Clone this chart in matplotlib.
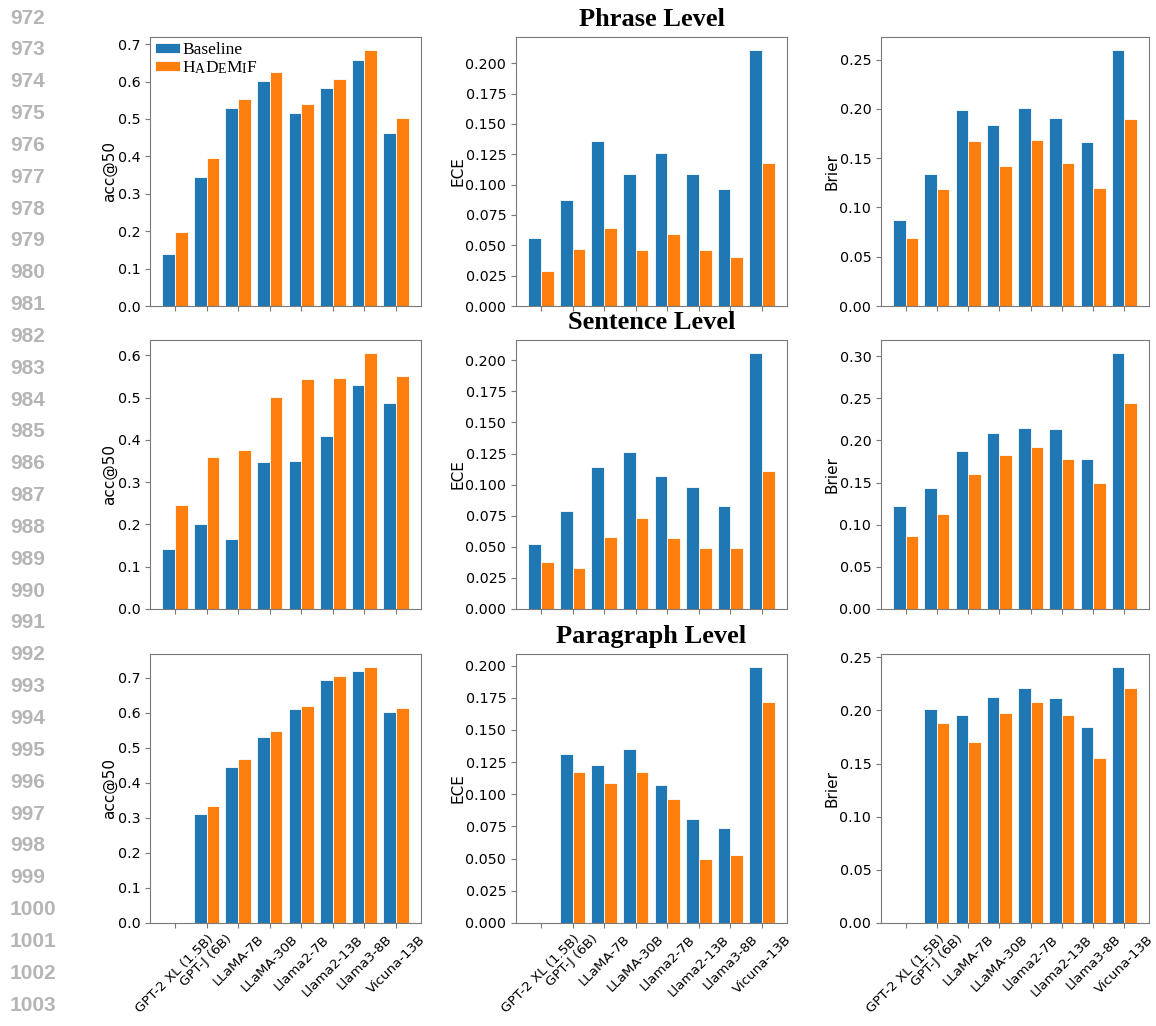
import matplotlib
matplotlib.use('Agg')
import matplotlib.pyplot as plt
import numpy as np

models = ["GPT-2 XL (1.5B)", "GPT-J (6B)", "LLaMA-7B", "LLaMA-30B",
          "Llama2-7B", "Llama2-13B", "Llama3-8B", "Vicuna-13B"]
levels = ["Phrase Level", "Sentence Level", "Paragraph Level"]
metrics = ["acc@50", "ECE", "Brier"]
series_names = ["Baseline", "HADEMIF"]

# Phrase level
phrase_acc_base = [0.140, 0.345, 0.529, 0.601, 0.517, 0.583, 0.658, 0.463]
phrase_acc_ours = [0.197, 0.395, 0.553, 0.627, 0.541, 0.607, 0.685, 0.502]
phrase_ece_base = [0.056, 0.087, 0.136, 0.109, 0.126, 0.109, 0.096, 0.211]
phrase_ece_ours = [0.029, 0.047, 0.064, 0.046, 0.059, 0.046, 0.040, 0.118]
phrase_brier_base = [0.087, 0.134, 0.199, 0.184, 0.201, 0.191, 0.166, 0.260]
phrase_brier_ours = [0.069, 0.119, 0.167, 0.142, 0.168, 0.145, 0.120, 0.190]

# Sentence level
sent_acc_base = [0.143, 0.201, 0.166, 0.348, 0.351, 0.409, 0.531, 0.487]
sent_acc_ours = [0.246, 0.360, 0.377, 0.502, 0.543, 0.547, 0.606, 0.551]
sent_ece_base = [0.052, 0.079, 0.114, 0.126, 0.107, 0.098, 0.083, 0.206]
sent_ece_ours = [0.038, 0.033, 0.058, 0.073, 0.057, 0.049, 0.049, 0.111]
sent_brier_base = [0.122, 0.143, 0.187, 0.209, 0.215, 0.213, 0.178, 0.304]
sent_brier_ours = [0.087, 0.113, 0.160, 0.183, 0.192, 0.178, 0.150, 0.245]

# Paragraph level (no GPT-2 XL result)
para_acc_base = [0.0, 0.311, 0.444, 0.532, 0.611, 0.692, 0.719, 0.601]
para_acc_ours = [0.0, 0.335, 0.467, 0.547, 0.620, 0.706, 0.731, 0.613]
para_ece_base = [0.0, 0.131, 0.123, 0.135, 0.107, 0.081, 0.074, 0.199]
para_ece_ours = [0.0, 0.117, 0.109, 0.117, 0.096, 0.050, 0.053, 0.172]
para_brier_base = [0.0, 0.201, 0.196, 0.213, 0.221, 0.212, 0.184, 0.241]
para_brier_ours = [0.0, 0.188, 0.170, 0.198, 0.208, 0.196, 0.155, 0.221]

data = [
    [(phrase_acc_base, phrase_acc_ours), (phrase_ece_base, phrase_ece_ours), (phrase_brier_base, phrase_brier_ours)],
    [(sent_acc_base, sent_acc_ours), (sent_ece_base, sent_ece_ours), (sent_brier_base, sent_brier_ours)],
    [(para_acc_base, para_acc_ours), (para_ece_base, para_ece_ours), (para_brier_base, para_brier_ours)],
]

W, H = 1156, 1026
fig = plt.figure(figsize=(W / 100, H / 100), dpi=100)

col_left = [150, 516, 881]
col_w = [271, 271, 268]
row_top = [37, 340, 654]
ah = 269

blue = '#1f77b4'
orange = '#ff7f0e'
spine_col = '#7a7a7a'

x = np.arange(len(models))
for r in range(3):
    for c in range(3):
        ax = fig.add_axes([col_left[c] / W, 1 - (row_top[r] + ah) / H, col_w[c] / W, ah / H])
        base, ours = data[r][c]
        ax.bar(x - 0.2, base, 0.4, color=blue, edgecolor='white', linewidth=0.6, label=series_names[0])
        ax.bar(x + 0.2, ours, 0.4, color=orange, edgecolor='white', linewidth=0.6, label=series_names[1])
        ax.set_xticks(x)
        if r == 2:
            ax.set_xticklabels(models, rotation=45, fontsize=9.6)
        else:
            ax.set_xticklabels([])
        ax.tick_params(axis='y', labelsize=10.3, color=spine_col)
        ax.tick_params(axis='x', color=spine_col)
        ax.set_ylabel(metrics[c], fontsize=11, labelpad=0)
        for s in ax.spines.values():
            s.set_color(spine_col)
        if c == 1:
            ax.set_title(levels[r], fontsize=19, fontweight='bold',
                         family='Liberation Serif', pad=8)
        if r == 0 and c == 0:
            leg = ax.legend(loc='upper left', frameon=False,
                            prop={'family': 'Liberation Serif', 'size': 12.5},
                            handlelength=1.45, handleheight=0.55, handletextpad=0.12,
                            labelspacing=0.1, borderaxespad=0.1, borderpad=0.2)
            t2 = leg.get_texts()[1]
            t2.set_text("H")
            prev = t2
            pieces = [("A", 10), ("D", 12.5), ("E", 10), ("M", 12.5), ("I", 10), ("F", 12.5)]
            for s, fs in pieces:
                prev = ax.annotate(s, xy=(1, 0), xycoords=prev, va='bottom', ha='left',
                                   fontsize=fs, family='Liberation Serif', zorder=10)

# Margin line numbers
for i in range(32):
    fig.text(10 / W, 1 - (18 + i * 31.84) / H, str(972 + i), ha='left', va='center',
             fontsize=15, fontweight='bold', color='#b5b5b5', family='Liberation Sans')

fig.savefig('out.png', dpi=100)
